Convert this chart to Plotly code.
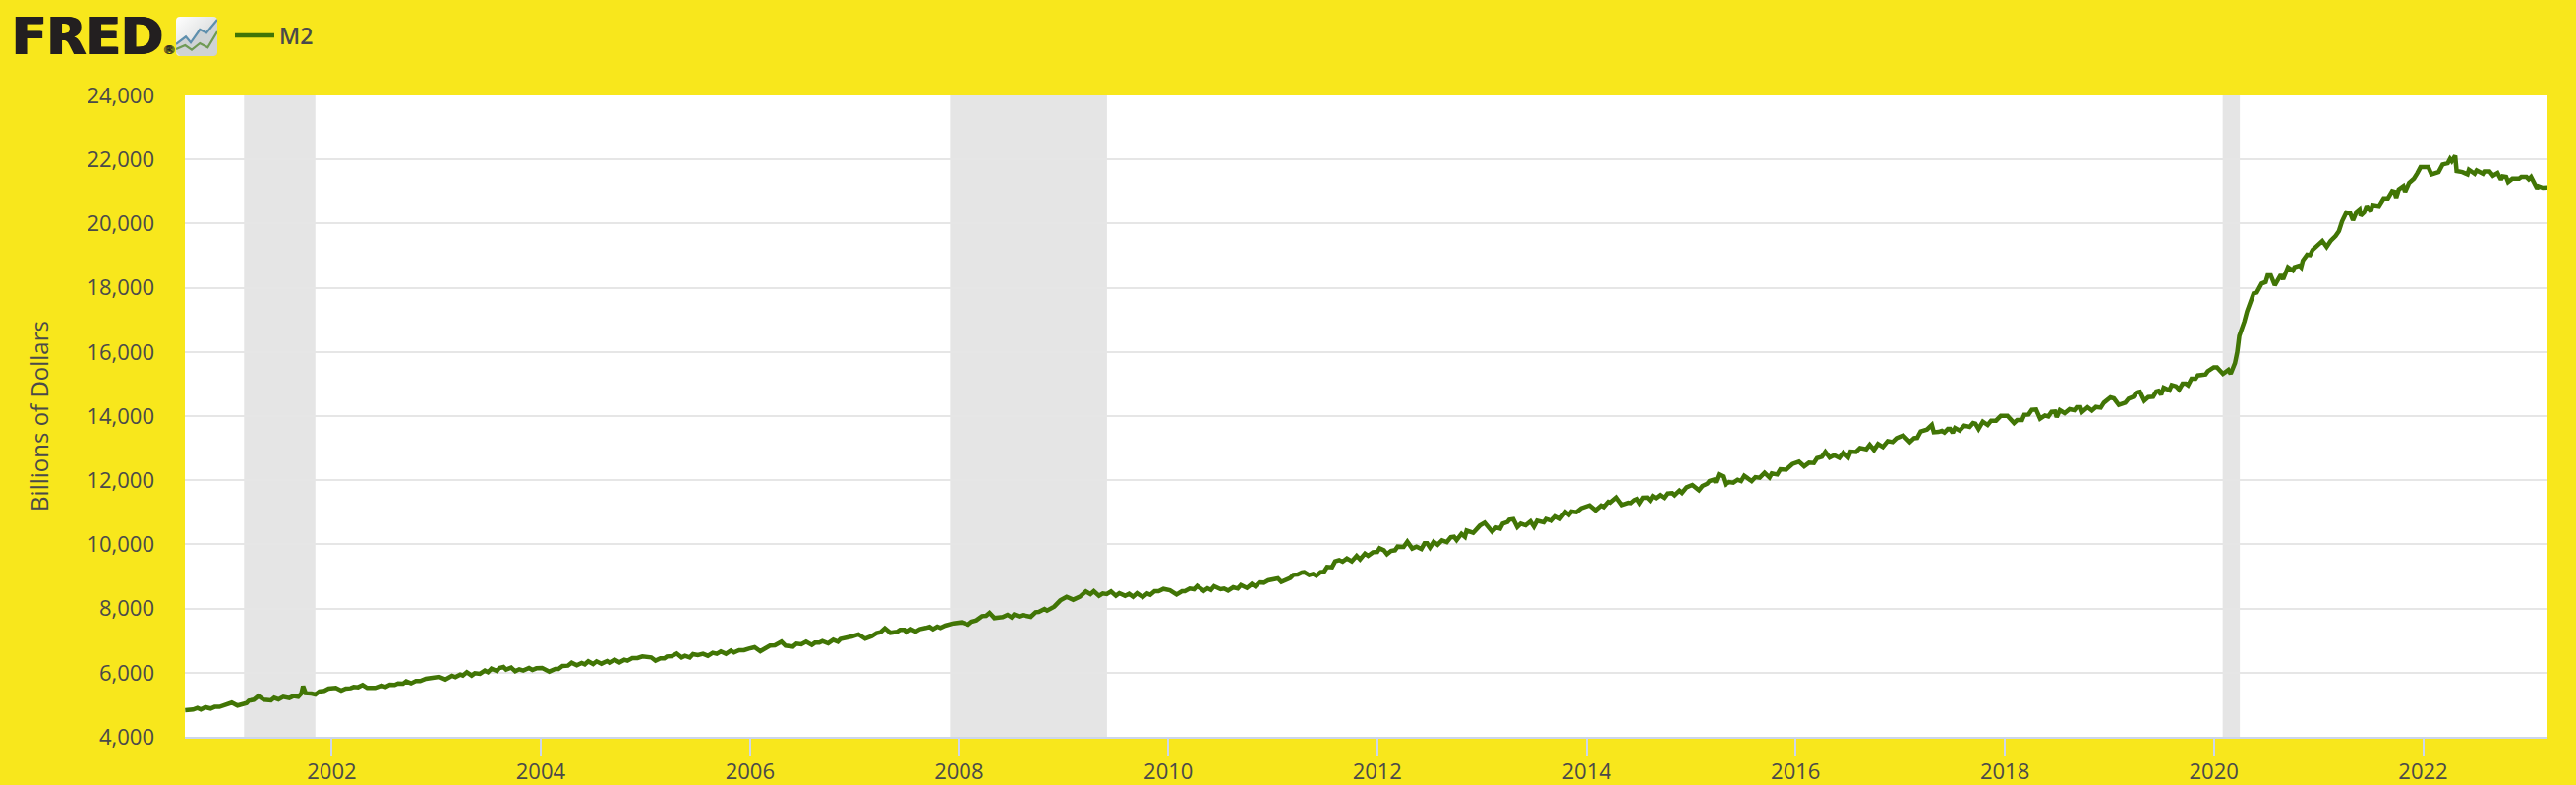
import base64
from datetime import datetime, timedelta
import plotly.graph_objects as go

SERIES_NAME = "M2"
Y_TITLE = "Billions of Dollars"
LOGO_TEXT = "FRED"

obs_year = [
2000.599,2000.646,2000.677,2000.718,2000.749,2000.793,2000.843,2000.881,2000.928,2000.975,
2001.044,2001.100,2001.147,2001.188,2001.210,2001.257,2001.301,2001.351,2001.420,2001.451,
2001.492,2001.539,2001.596,2001.633,2001.680,2001.712,2001.727,2001.752,2001.806,2001.846,
2001.884,2001.931,2001.972,2002.041,2002.091,2002.135,2002.182,2002.213,2002.254,2002.298,
2002.341,2002.417,2002.479,2002.517,2002.558,2002.605,2002.636,2002.683,2002.714,2002.761,
2002.808,2002.849,2002.902,2002.949,2003.028,2003.090,2003.153,2003.184,2003.231,2003.257,
2003.294,2003.341,2003.372,
2003.420,2003.467,2003.498,2003.530,2003.583,2003.608,2003.646,2003.671,2003.718,2003.758,
2003.796,2003.834,2003.890,2003.921,2003.959,2004.015,2004.084,2004.141,2004.172,2004.210,
2004.260,2004.297,2004.345,2004.392,2004.423,2004.454,2004.501,2004.533,2004.580,2004.636,
2004.658,2004.705,2004.752,2004.799,2004.830,2004.877,2004.924,2004.971,2005.056,2005.097,
2005.144,2005.181,2005.206,2005.253,2005.300,2005.347,2005.379,2005.426,2005.457,2005.504,
2005.551,2005.598,2005.645,2005.683,2005.723,2005.771,2005.818,2005.849,2005.896,2005.943,
2005.990,2006.046,2006.100,2006.147,2006.194,2006.241,
2006.304,2006.341,2006.413,2006.445,2006.492,2006.539,2006.592,2006.623,2006.664,2006.695,
2006.749,2006.799,2006.843,2006.868,2006.915,2006.977,2007.040,2007.103,2007.166,2007.213,
2007.250,2007.291,2007.344,2007.407,2007.438,2007.479,2007.501,2007.542,2007.589,2007.626,
2007.683,2007.720,2007.752,2007.792,2007.824,2007.871,2007.949,2008.027,2008.090,2008.121,
2008.168,2008.222,2008.262,2008.294,2008.341,2008.419,2008.466,2008.504,2008.529,2008.576,
2008.607,2008.654,2008.686,2008.733,2008.764,2008.817,2008.842,2008.911,2008.968,2009.030,
2009.062,
2009.093,2009.156,2009.212,2009.256,2009.288,2009.338,2009.375,2009.413,2009.454,2009.501,
2009.532,2009.589,2009.626,2009.664,2009.704,2009.758,2009.798,2009.830,2009.871,2009.908,
2009.955,2010.018,2010.081,2010.134,2010.159,2010.206,2010.247,2010.278,2010.341,2010.378,
2010.410,2010.441,2010.504,2010.535,2010.573,2010.623,2010.667,2010.698,2010.754,2010.801,
2010.833,2010.873,2010.917,2010.958,2011.052,2011.083,2011.130,2011.168,2011.199,2011.240,
2011.281,2011.303,2011.350,2011.387,2011.419,2011.460,2011.491,2011.522,2011.569,2011.600,
2011.638,2011.669,2011.710,2011.757,2011.804,2011.836,2011.883,
2011.913,2011.960,2012.001,2012.023,2012.064,2012.095,2012.133,2012.170,2012.195,2012.252,
2012.289,2012.336,2012.377,2012.421,2012.452,2012.477,2012.503,2012.540,2012.578,2012.618,
2012.665,2012.703,2012.734,2012.759,2012.806,2012.838,2012.854,2012.916,2012.979,2013.026,
2013.098,2013.136,2013.173,2013.198,2013.245,2013.261,2013.299,2013.339,2013.371,2013.418,
2013.465,2013.496,2013.527,2013.590,2013.612,2013.668,2013.706,2013.747,2013.800,2013.831,
2013.856,2013.903,2013.950,2014.029,2014.085,2014.138,2014.164,2014.207,2014.232,2014.289,
2014.342,2014.405,2014.427,2014.458,2014.483,2014.508,2014.540,2014.583,2014.609,2014.634,
2014.665,2014.703,
2014.741,2014.772,2014.822,2014.844,2014.891,2014.916,2014.960,2015.016,2015.079,2015.110,
2015.157,2015.179,2015.220,2015.236,2015.267,2015.305,2015.330,2015.367,2015.408,2015.449,
2015.480,2015.512,2015.549,2015.581,2015.618,2015.659,2015.706,2015.753,2015.775,2015.825,
2015.856,2015.910,2015.972,2016.035,2016.082,2016.129,2016.176,2016.207,2016.254,2016.286,
2016.326,2016.370,2016.420,2016.458,2016.505,2016.527,2016.577,2016.615,2016.677,2016.709,
2016.749,2016.787,2016.834,2016.881,2016.928,2016.966,2017.028,2017.091,2017.132,2017.163,
2017.195,2017.235,2017.257,2017.304,2017.323,2017.367,2017.398,2017.423,2017.455,2017.477,
2017.502,2017.524,
2017.568,2017.612,2017.665,2017.696,2017.718,2017.750,2017.790,2017.837,2017.869,2017.916,
2017.963,2018.025,2018.088,2018.119,2018.166,2018.188,2018.229,2018.260,2018.301,2018.339,
2018.386,2018.417,2018.449,2018.480,2018.496,2018.527,2018.574,2018.621,2018.668,2018.690,
2018.724,2018.740,2018.793,2018.834,2018.872,2018.919,2018.950,2019.013,2019.044,2019.091,
2019.154,2019.185,2019.232,2019.263,2019.295,2019.335,2019.373,2019.420,2019.451,2019.473,
2019.498,2019.523,2019.577,2019.599,2019.639,2019.671,2019.702,2019.733,2019.755,2019.787,
2019.827,2019.849,2019.890,2019.922,2019.943,2020.000,2020.031,2020.088,2020.141,2020.163,
2020.204,2020.226,2020.245,
2020.270,2020.295,2020.317,2020.348,2020.380,2020.411,2020.458,2020.496,2020.514,2020.546,
2020.583,2020.640,2020.662,2020.709,2020.756,2020.771,2020.818,2020.834,2020.850,2020.891,
2020.919,2020.944,2021.006,2021.038,2021.079,2021.116,2021.163,2021.195,2021.226,2021.267,
2021.304,2021.329,2021.367,2021.392,2021.405,2021.436,2021.461,2021.499,2021.517,2021.561,
2021.580,2021.624,2021.665,2021.705,2021.727,2021.743,2021.768,2021.812,2021.828,2021.868,
2021.915,2021.947,2021.978,2022.050,2022.081,2022.150,2022.188,2022.238,2022.260,2022.276,
2022.307,2022.323,2022.364,2022.376,2022.426,2022.439,2022.495,2022.514,2022.573,2022.589,
2022.636,2022.671,2022.714,2022.746,2022.762,2022.796,2022.815,2022.856,2022.918,2022.940,
2022.990,2023.012,2023.034,2023.091,2023.106,2023.147,2023.185,
]

m2_billions = [
4829,4840,4850,4901,4850,4921,4881,4932,4932,4983,
5065,4973,5034,5054,5126,5157,5269,5157,5136,5218,
5167,5249,5208,5269,5249,5351,5576,5361,5351,5320,
5412,5432,5504,5524,5443,5504,5514,5555,5545,5616,
5524,5524,5596,5555,5627,5616,5667,5657,5729,5667,
5739,5739,5811,5831,5872,5790,5903,5862,5943,5913,
6015,5913,5984,
5964,6066,6015,6127,6056,6148,6178,6097,6158,6045,
6107,6066,6148,6086,6137,6148,6035,6117,6117,6209,
6219,6311,6229,6301,6260,6352,6270,6352,6280,6362,
6311,6403,6321,6403,6373,6454,6454,6505,6475,6373,
6444,6444,6505,6516,6597,6475,6526,6475,6577,6546,
6587,6526,6618,6587,6659,6587,6689,6628,6700,6700,
6751,6792,6669,6761,6843,6853,
6966,6843,6813,6905,6884,6966,6864,6935,6935,6986,
6915,7027,6966,7048,7068,7129,7191,7058,7140,7232,
7262,7385,7242,7272,7334,7334,7262,7354,7283,7354,
7395,7426,7354,7436,7395,7467,7538,7569,7497,7589,
7630,7763,7773,7865,7702,7732,7804,7722,7814,7753,
7794,7783,7743,7886,7896,7988,7937,8059,8254,8366,
8325,
8274,8366,8530,8448,8540,8397,8468,8448,8530,8397,
8478,8397,8458,8366,8478,8356,8468,8427,8540,8540,
8611,8570,8438,8540,8540,8622,8601,8703,8550,8632,
8581,8693,8601,8622,8560,8662,8622,8734,8642,8765,
8693,8816,8805,8877,8938,8826,8908,8949,9051,9061,
9122,9133,9041,9081,9020,9133,9143,9296,9286,9470,
9511,9460,9562,9470,9644,9531,9715,
9644,9756,9767,9879,9818,9695,9797,9818,9930,9920,
10083,9869,9930,9859,10032,10032,9899,10083,9991,10124,
10073,10226,10237,10134,10329,10237,10431,10359,10584,10676,
10400,10523,10492,10645,10697,10768,10789,10543,10645,10594,
10717,10553,10737,10686,10789,10737,10870,10799,11013,10921,
11024,11003,11126,11218,11064,11208,11167,11330,11300,11463,
11228,11300,11289,11381,11412,11289,11453,11463,11371,11504,
11443,11535,
11453,11586,11596,11535,11678,11607,11780,11852,11688,11821,
11893,11974,12015,11934,12179,12118,11872,11944,11923,12015,
11974,12138,12046,11974,12097,12077,12230,12087,12210,12179,
12342,12332,12506,12577,12434,12547,12537,12690,12731,12884,
12710,12782,12700,12864,12720,12894,12884,13007,12966,13109,
12945,13129,13037,13221,13191,13313,13395,13191,13313,13324,
13518,13538,13579,13722,13497,13507,13538,13487,13599,13599,
13477,13630,
13550,13703,13662,13785,13764,13601,13825,13723,13856,13856,
14009,14009,13785,13877,13877,14040,14050,14193,14204,13917,
14020,13989,14132,14142,13969,14183,14091,14214,14183,14275,
14275,14132,14275,14173,14285,14265,14418,14582,14551,14347,
14418,14541,14602,14735,14756,14480,14592,14602,14766,14786,
14664,14888,14807,14970,14929,14827,15011,15011,14960,15164,
15164,15267,15277,15297,15399,15522,15522,15318,15440,15318,
15650,16000,16500,
16699,16955,17261,17568,17823,17854,18130,18181,18386,18386,
18079,18406,18263,18641,18539,18641,18692,18641,18846,19030,
19019,19183,19357,19459,19275,19459,19612,19765,20072,20348,
20327,20103,20378,20450,20246,20348,20552,20378,20583,20583,
20552,20787,20787,21012,20992,20808,21063,21165,20992,21268,
21401,21574,21758,21758,21533,21605,21840,21881,22014,21942,
22116,21636,21636,21605,21533,21676,21554,21656,21554,21625,
21625,21492,21574,21370,21472,21452,21298,21401,21401,21452,
21452,21380,21452,21094,21166,21115,21125,
]

recession_start = ["2001-03-01", "2007-12-01", "2020-02-01"]
recession_end = ["2001-11-05", "2009-06-01", "2020-04-01"]

y_range = [4000, 24000]
y_tick_step = 2000
x_range = ["2000-08-06", "2023-03-08"]
x_tick0 = "2002-01-01"

YELLOW = "#F8E71C"
GREEN = "#417505"
TEXT = "#4a4a4a"
GRID = "#e6e6e6"
BAND = "#e5e5e5"
AXIS = "#ccd6eb"
FONT = "Open Sans"

W, H = 2620, 798
L, R, T, B = 188, 30, 97, 49
PW, PH = W - L - R, H - T - B


def to_date(y):
    year = int(y)
    start = datetime(year, 1, 1)
    span = (datetime(year + 1, 1, 1) - start).days
    return (start + timedelta(days=(y - year) * span)).strftime("%Y-%m-%d")


def px(x):
    return (x - L) / PW


def py(y):
    return 1 - (y - T) / PH


icon_svg = """<svg xmlns='http://www.w3.org/2000/svg' width='42' height='40' viewBox='0 0 42 40'>
<defs><linearGradient id='g' x1='0' y1='0' x2='1' y2='1'><stop offset='0' stop-color='#ffffff'/><stop offset='1' stop-color='#c9cccd'/></linearGradient></defs>
<rect width='42' height='40' rx='4' fill='url(#g)'/>
<polygon points='0,28 10,20.3 15,26.3 24.3,13 31,16.3 42,3 42,36 38,40 4,40 0,36' fill='#cfd3d5'/>
<polyline points='0,28 10,20.3 15,26.3 24.3,13 31,16.3 42,3' fill='none' stroke='#5e8fad' stroke-width='2.2'/>
<polyline points='0,33 9.3,29 16,33.7 24.3,27 32.3,31.3 42,15' fill='none' stroke='#6f9a55' stroke-width='2.2'/>
</svg>"""
icon_uri = "data:image/svg+xml;base64," + base64.b64encode(icon_svg.encode()).decode()

fig = go.Figure()
fig.add_trace(go.Scatter(
    x=[to_date(v) for v in obs_year],
    y=m2_billions,
    mode="lines",
    name=SERIES_NAME,
    line=dict(color=GREEN, width=4.5, shape="linear"),
    hoverinfo="x+y",
))

for s, e in zip(recession_start, recession_end):
    fig.add_shape(type="rect", xref="x", yref="paper", x0=s, x1=e, y0=0, y1=1,
                  fillcolor=BAND, line_width=0, layer="between")

fig.update_layout(
    width=W, height=H,
    margin=dict(l=L, r=R, t=T, b=B, pad=0, autoexpand=False),
    paper_bgcolor=YELLOW,
    plot_bgcolor="#ffffff",
    font=dict(family=FONT, size=22, color=TEXT),
    showlegend=True,
    legend=dict(
        orientation="h", x=px(234), y=py(36), xanchor="left", yanchor="middle",
        itemwidth=40,
        bgcolor="rgba(0,0,0,0)", font=dict(family=FONT, size=23, color=TEXT, weight=600),
    ),
    xaxis=dict(
        type="date", range=x_range, tick0=x_tick0, dtick="M24", tickformat="%Y",
        showgrid=False, zeroline=False, showline=True, linecolor=AXIS, linewidth=2,
        ticks="outside", ticklen=18, tickwidth=2, tickcolor=AXIS, automargin=False,
        ticklabelstandoff=-3,
        tickfont=dict(family=FONT, size=22, color=TEXT),
    ),
    yaxis=dict(
        range=y_range, dtick=y_tick_step, tick0=y_range[0], tickformat=",d",
        showgrid=True, gridcolor=GRID, gridwidth=2, zeroline=False, showline=False,
        ticks="", ticklabelstandoff=30, automargin=False,
        tickfont=dict(family=FONT, size=22, color=TEXT),
        title=dict(text=Y_TITLE, font=dict(family=FONT, size=24, color=TEXT), standoff=32),
    ),
    images=[dict(source=icon_uri, xref="paper", yref="paper",
                 x=px(179), y=py(17), sizex=42 / PW, sizey=40 / PH,
                 xanchor="left", yanchor="top", sizing="stretch", layer="above")],
    annotations=[
        dict(text=LOGO_TEXT + "<span style='font-size:12px;font-weight:400'>®</span>",
             xref="paper", yref="paper", x=px(10), y=py(37),
             xanchor="left", yanchor="middle", showarrow=False,
             font=dict(family="DejaVu Sans", size=52, color="#231f20", weight=700,
                       shadow="1px 0 0 #231f20, -1px 0 0 #231f20")),
    ],
)

fig.write_html("out.html", config={"displayModeBar": False},
               post_script="document.body.style.margin='0';document.body.style.background='#F8E71C';")
